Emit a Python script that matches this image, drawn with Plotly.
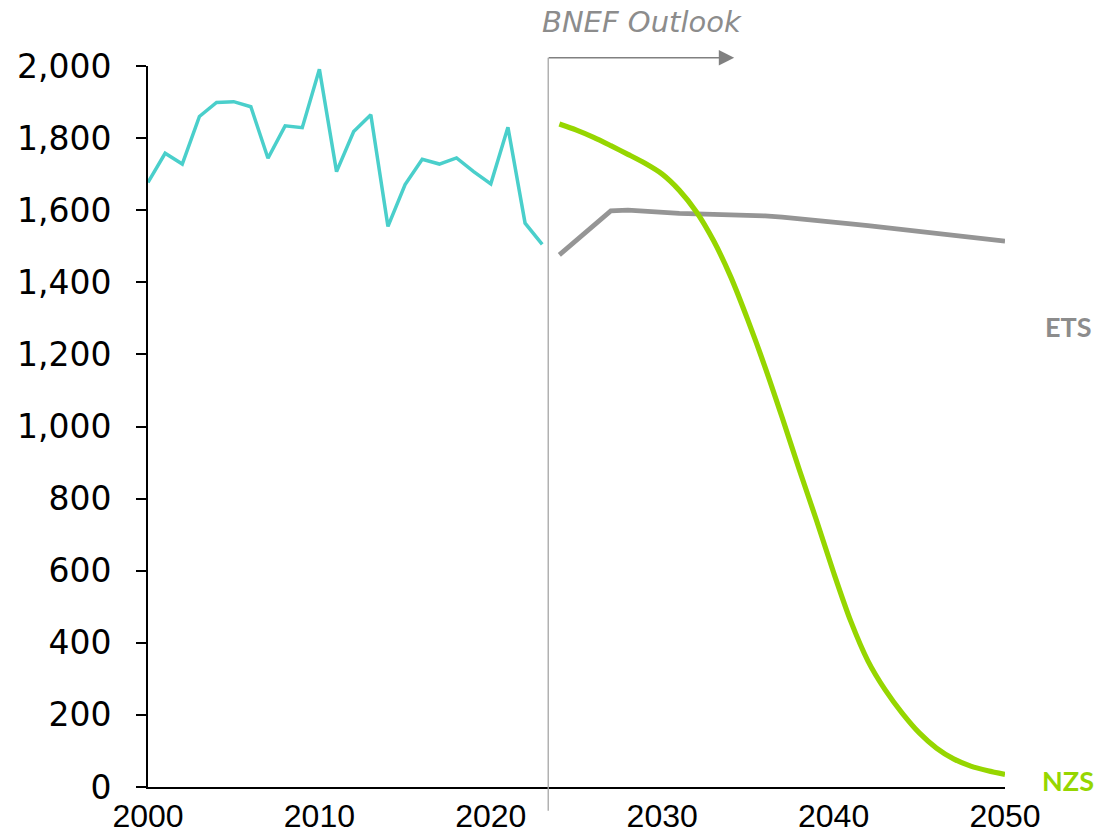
import plotly.graph_objects as go

# Historical emissions, 2000-2023
hist_years = list(range(2000, 2024))
hist_values = [1677, 1758, 1728, 1860, 1899, 1901, 1887, 1744, 1834, 1829,
               1991, 1707, 1818, 1865, 1555, 1671, 1741, 1728, 1745, 1707,
               1673, 1830, 1564, 1505]

# BNEF Outlook scenarios, 2024-2050
proj_years = list(range(2024, 2051))
ets_values = [1476, 1517, 1557, 1598, 1600, 1596, 1593, 1591, 1590, 1589,
              1588, 1587, 1584, 1581, 1577, 1572, 1567, 1562, 1557, 1552,
              1547, 1542, 1536, 1530, 1525, 1519, 1514]
nzs_values = [1839, 1822, 1802, 1779, 1755, 1730, 1700, 1655, 1595, 1515,
              1415, 1295, 1165, 1025, 880, 740, 595, 460, 350, 270,
              205, 150, 108, 78, 58, 45, 35]

x_ticks = [2000, 2010, 2020, 2030, 2040, 2050]
y_ticks = list(range(0, 2001, 200))
outlook_start = 2023.35

TEAL = "#4ACFCB"
GREEN = "#96D600"
GREY = "#959595"

fig = go.Figure()
fig.add_trace(go.Scatter(x=hist_years, y=hist_values, mode="lines",
                         line=dict(color=TEAL, width=3.5), name="Historical"))
fig.add_trace(go.Scatter(x=proj_years, y=ets_values, mode="lines",
                         line=dict(color=GREY, width=4.8), name="ETS"))
fig.add_trace(go.Scatter(x=proj_years, y=nzs_values, mode="lines",
                         line=dict(color=GREEN, width=5.2, shape="spline", smoothing=0.8),
                         name="NZS"))

# Outlook divider and arrow
fig.add_shape(type="line", xref="x", yref="paper",
              x0=outlook_start, x1=outlook_start, y0=-0.033, y1=1.0114,
              line=dict(color="#A6A6A6", width=1.3))
fig.add_annotation(xref="x", yref="paper", axref="pixel", ayref="pixel",
                   x=2034.2, y=1.0114, ax=-187, ay=0,
                   showarrow=True, arrowhead=2, arrowsize=2.2, arrowwidth=1.4,
                   arrowcolor="#808080", text="")
fig.add_annotation(xref="x", yref="paper", x=2028.8, y=1.0114, yshift=36,
                   xanchor="center", yanchor="middle",
                   text="<i>BNEF Outlook</i>", showarrow=False,
                   font=dict(family="DejaVu Sans", size=29, color="#8C8C8C"))

# Series end labels
label_font = "Lato, Liberation Sans, sans-serif"
fig.add_annotation(xref="paper", yref="y", x=1.0, xshift=63, y=ets_values[-1] - 237,
                   xanchor="center", yanchor="middle",
                   text="<b>ETS</b>", showarrow=False,
                   font=dict(family=label_font, size=27, color="#8C8C8C"))
fig.add_annotation(xref="paper", yref="y", x=1.0, xshift=63, y=nzs_values[-1] - 17,
                   xanchor="center", yanchor="middle",
                   text="<b>NZS</b>", showarrow=False,
                   font=dict(family=label_font, size=27, color=GREEN))

fig.update_layout(
    width=1100, height=837,
    margin=dict(l=148, r=95, t=66, b=50),
    paper_bgcolor="white", plot_bgcolor="white",
    showlegend=False,
    font=dict(family="DejaVu Sans", color="black"),
)
fig.update_xaxes(
    range=[2000, 2050], tickvals=x_ticks, ticktext=[str(v) for v in x_ticks],
    showgrid=False, zeroline=False, showline=True, linecolor="black", linewidth=2,
    ticks="", tickfont=dict(family="Liberation Sans, Arial, sans-serif", size=32,
                            color="black"),
    ticklabelstandoff=0, automargin=False,
)
fig.update_yaxes(
    range=[0, 2000], tickvals=y_ticks, tickformat=",",
    showgrid=False, zeroline=False, showline=True, linecolor="black", linewidth=2,
    ticks="outside", ticklen=10, tickwidth=2, tickcolor="black",
    tickfont=dict(family="DejaVu Sans", size=33, color="black"),
    ticklabelstandoff=18, automargin=False,
)

fig.write_html("out.html")
